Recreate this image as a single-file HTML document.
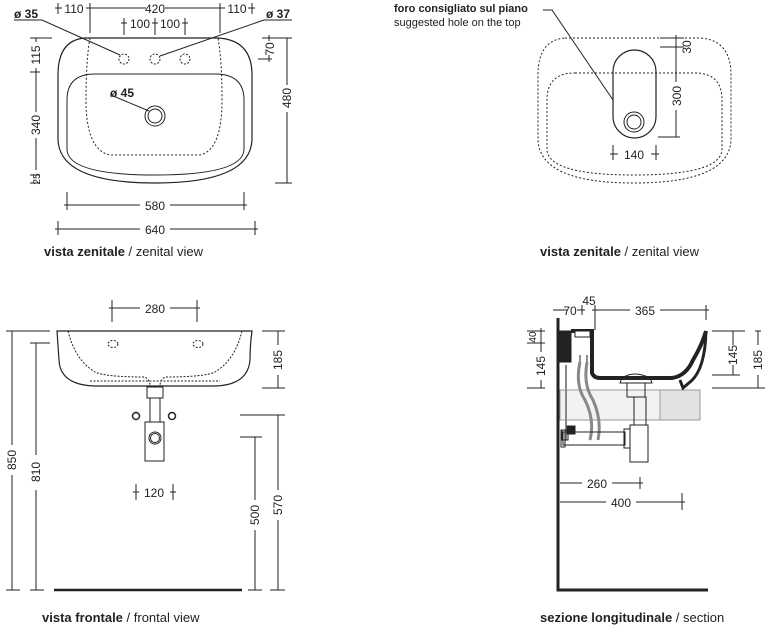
<!DOCTYPE html>
<html><head><meta charset="utf-8"><style>
html,body{margin:0;padding:0;background:#fff;}
svg{display:block;}
text{font-family:"Liberation Sans",sans-serif;fill:#222;}
.d{font-size:12px;}
.c{font-size:13px;}
</style></head><body>
<svg width="771" height="633" viewBox="0 0 771 633" xmlns="http://www.w3.org/2000/svg">
<g fill="none" stroke="#222" stroke-width="1">
<!-- ===== TOP LEFT ===== -->
<path d="M85,38 L218,38 Q252,40 252,75 L252,140 Q250,183 155,183 Q60,183 58,140 L58,75 Q58,40 85,38 Z" stroke-width="1.2"/>
<path d="M95,74 L215,74 Q244,74 244,100 L244,150 Q242,175 155,175 Q69,175 67,150 L67,100 Q67,74 95,74 Z"/>
<path d="M90,38 Q86,60 86,100 Q86,150 110,155 L200,155 Q222,150 222,100 Q222,60 218,38" stroke-dasharray="2,2"/>
<circle cx="124" cy="59" r="5" stroke-dasharray="2,1.5"/>
<circle cx="155" cy="59" r="5" stroke-dasharray="2,1.5"/>
<circle cx="185" cy="59" r="5" stroke-dasharray="2,1.5"/>
<circle cx="155" cy="116" r="10"/><circle cx="155" cy="116" r="7"/>
<path d="M58,8 L62,8 M86,8 L146,8 M165,8 L225,8 M248,8 L252,8"/>
<path d="M58,3 V14 M90,3 V33 M220,3 V33 M252,3 V14 M55,8 h6 M87,8 h6 M217,8 h6 M249,8 h6"/>
<path d="M124,18 V35 M155,18 V35 M185,18 V35 M121,23 h6 M152,23 h6 M182,23 h6"/>
<path d="M14,20 H42 L120,55 M292,20 H264 L160,56"/>
<path d="M110,95 L111,95 L149,111"/>
<path d="M36,38 V42 M36,68 V112 M36,138 V170 M30,38 H52 M30,72 H40 M30,175 H40 M30,183 H40 M33,38 h6 M33,72 h6 M33,175 h6 M33,183 h6"/>
<path d="M262,38 H292 M258,59 H272 M269,35 V41 M269,55 V62 M287,38 V85 M287,112 V183 M275,183 H292 M284,38 h6 M284,183 h6 M266,38 h6 M266,59 h6"/>
<path d="M67,192 V210 M244,192 V210 M67,205 H140 M170,205 H244 M64,205 h6 M241,205 h6"/>
<path d="M58,221 V235 M255,221 V235 M58,229 H140 M170,229 H255 M55,229 h6 M252,229 h6"/>

<!-- ===== TOP RIGHT ===== -->
<path d="M565,38 L700,38 Q731,40 731,75 L731,140 Q729,183 634,183 Q540,183 538,140 L538,75 Q538,40 565,38 Z" stroke-dasharray="2,2"/>
<path d="M575,73 L695,73 Q722,73 722,100 L722,150 Q720,175 634,175 Q549,175 547,150 L547,100 Q547,73 575,73 Z" stroke-dasharray="2,2"/>
<rect x="613" y="50" width="43" height="88" rx="21.5" stroke-width="1.2"/>
<circle cx="634" cy="122" r="10"/><circle cx="634" cy="122" r="7"/>
<path d="M543,10 H552 L613,100"/>
<path d="M660,38 H684 M660,47 H684 M676,35 V50 M676,50 V82 M676,110 V137 M658,137 H680 M673,38 h6 M673,47 h6 M673,137 h6"/>
<path d="M613,145 V160 M656,145 V160 M610,154 H618 M651,154 H659"/>

<!-- ===== BOTTOM LEFT ===== -->
<path d="M57,331 H252 Q250,345 250,360 Q248,385 215,386 L95,386 Q60,385 59,360 Q58,345 57,331 Z" stroke-width="1.2"/>
<path d="M68,331 Q75,360 95,372 Q105,377 145,377 Q150,380 150,386 M242,331 Q235,360 215,372 Q205,377 165,377 Q160,380 160,386" stroke-dasharray="2,1.5"/>
<path d="M90,381 H220" stroke-dasharray="2,1.5"/>
<ellipse cx="113" cy="344" rx="5" ry="3.5" stroke-dasharray="2,1.5"/>
<ellipse cx="198" cy="344" rx="5" ry="3.5" stroke-dasharray="2,1.5"/>
<rect x="147" y="387" width="16" height="11"/>
<rect x="150" y="398" width="10" height="24"/>
<rect x="145" y="422" width="19" height="39"/>
<circle cx="155" cy="438" r="6"/><circle cx="155" cy="438" r="4.5"/>
<circle cx="136" cy="416" r="3.5" stroke-width="1.5"/><circle cx="172" cy="416" r="3.5" stroke-width="1.5"/>
<path d="M112,300 V322 M197,300 V322 M112,308 H140 M170,308 H197 M109,308 h6 M194,308 h6"/>
<path d="M136,484 V500 M173,484 V500 M133,492 h6 M170,492 h6"/>
<path d="M6,331 H50 M12,331 V445 M12,475 V590 M9,331 h6 M9,590 h6 M6,590 H20"/>
<path d="M30,343 H50 M36,343 V455 M36,490 V590 M33,343 h6 M33,590 h6 M30,590 H44"/>
<path d="M262,331 H285 M262,388 H285 M278,331 V345 M278,375 V388 M275,331 h6 M275,388 h6"/>
<path d="M240,415 H285 M278,415 V490 M278,520 V590 M275,415 h6 M275,590 h6 M270,590 H285"/>
<path d="M240,437 H262 M255,437 V500 M255,530 V590 M252,437 h6 M252,590 h6 M248,590 H262"/>
<path d="M54,590 H242" stroke-width="2.5"/>

<!-- ===== BOTTOM RIGHT ===== -->
<rect x="560" y="390" width="100" height="30" fill="#f2f2f2" stroke="#999"/>
<rect x="660" y="390" width="40" height="30" fill="#e2e2e2" stroke="#999"/>
<path d="M558,318 V590 H708" stroke-width="3"/>
<path d="M560,331 H571 V362 H560 Z" fill="#222"/>
<path d="M571,331 H592 V373 Q594,378 600,378 L672,378 Q686,376 693,360 Q702,345 706,331" stroke-width="4"/>
<path d="M706,331 Q705,370 690,382 L683,388 L680,380" stroke-width="3"/>
<rect x="575" y="331" width="15" height="6" fill="#fff" stroke="#222"/>
<path d="M580,355 V362 M587,355 V362"/>
<path d="M580,362 Q575,385 585,400 Q595,420 590,440 M587,362 Q583,385 593,400 Q602,420 598,440" stroke="#888" stroke-width="3"/>
<path d="M566,365 V440" stroke="#888" stroke-width="2"/>
<rect x="567" y="426" width="8" height="8" fill="#222"/>
<rect x="562" y="430" width="6" height="10"/>
<path d="M622,378 Q634,370 650,378 L652,383 H620 Z"/>
<rect x="627" y="383" width="18" height="14"/>
<rect x="634" y="397" width="12" height="28"/>
<rect x="630" y="425" width="18" height="37"/>
<rect x="563" y="432" width="62" height="13"/>
<rect x="624" y="429" width="6" height="19"/>
<rect x="561" y="430" width="4" height="17"/>
<path d="M553,310 H567 M577,310 H582 M582,305 V315 M595,305 V330 M595,310 H630 M660,310 H706 M706,305 V320 M579,310 h6 M592,310 h6 M703,310 h6"/>
<path d="M527,331 H545 M541,328 V350 M541,343 V352 M541,380 V388 M527,343 H545 M527,388 H545 M538,331 h6 M538,343 h6 M538,388 h6"/>
<path d="M712,331 H745 M712,375 H740 M733,331 V345 M733,365 V375 M758,331 V345 M758,375 V388 M712,388 H765 M730,331 h6 M730,375 h6 M755,331 h6 M755,388 h6"/>
<path d="M560,483 H582 M612,483 H640 M640,477 V489 M637,483 h6"/>
<path d="M560,502 H606 M636,502 H682 M682,493 V510 M679,502 h6"/>
</g>

<g class="d">
<text x="74" y="13" text-anchor="middle">110</text>
<text x="155" y="13" text-anchor="middle">420</text>
<text x="237" y="13" text-anchor="middle">110</text>
<text x="140" y="28" text-anchor="middle">100</text>
<text x="170" y="28" text-anchor="middle">100</text>
<text x="14" y="18" font-weight="bold">ø 35</text>
<text x="266" y="18" font-weight="bold">ø 37</text>
<text x="110" y="97" font-weight="bold">ø 45</text>
<text transform="translate(40,55) rotate(-90)" text-anchor="middle">115</text>
<text transform="translate(40,125) rotate(-90)" text-anchor="middle">340</text>
<text transform="translate(40,179) rotate(-90)" text-anchor="middle" font-size="10">25</text>
<text transform="translate(274,49) rotate(-90)" text-anchor="middle">70</text>
<text transform="translate(291,98) rotate(-90)" text-anchor="middle">480</text>
<text x="155" y="210" text-anchor="middle">580</text>
<text x="155" y="234" text-anchor="middle">640</text>

<text x="394" y="12" font-weight="bold" font-size="11">foro consigliato sul piano</text>
<text x="394" y="26" font-size="11">suggested hole on the top</text>
<text transform="translate(691,47) rotate(-90)" text-anchor="middle">30</text>
<text transform="translate(681,96) rotate(-90)" text-anchor="middle">300</text>
<text x="634" y="159" text-anchor="middle">140</text>

<text x="155" y="313" text-anchor="middle">280</text>
<text x="154" y="497" text-anchor="middle">120</text>
<text transform="translate(16,460) rotate(-90)" text-anchor="middle">850</text>
<text transform="translate(40,472) rotate(-90)" text-anchor="middle">810</text>
<text transform="translate(259,515) rotate(-90)" text-anchor="middle">500</text>
<text transform="translate(282,505) rotate(-90)" text-anchor="middle">570</text>
<text transform="translate(282,360) rotate(-90)" text-anchor="middle">185</text>

<text x="570" y="315" text-anchor="middle">70</text>
<text x="589" y="305" text-anchor="middle">45</text>
<text x="645" y="315" text-anchor="middle">365</text>
<text transform="translate(536,337) rotate(-90)" text-anchor="middle" font-size="10">40</text>
<text transform="translate(545,366) rotate(-90)" text-anchor="middle">145</text>
<text transform="translate(737,355) rotate(-90)" text-anchor="middle">145</text>
<text transform="translate(762,360) rotate(-90)" text-anchor="middle">185</text>
<text x="597" y="488" text-anchor="middle">260</text>
<text x="621" y="507" text-anchor="middle">400</text>
</g>
<g class="c">
<text x="44" y="256"><tspan font-weight="bold">vista zenitale</tspan> / zenital view</text>
<text x="540" y="256"><tspan font-weight="bold">vista zenitale</tspan> / zenital view</text>
<text x="42" y="622"><tspan font-weight="bold">vista frontale</tspan> / frontal view</text>
<text x="540" y="622"><tspan font-weight="bold">sezione longitudinale</tspan> / section</text>
</g>
</svg>
</body></html>
